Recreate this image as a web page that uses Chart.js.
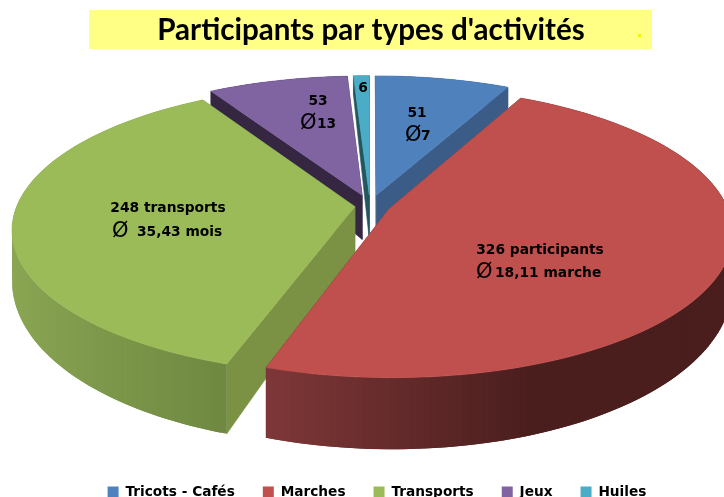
<!DOCTYPE html>
<html>
<head>
<meta charset="utf-8">
<title>Participants par types d'activités</title>
<script src="https://cdn.jsdelivr.net/npm/chart.js@4"></script>
<style>
  html, body { margin: 0; padding: 0; background: #fff; overflow: hidden; }
  canvas { display: block; }
</style>
</head>
<body>
<canvas id="chart" width="724" height="497"></canvas>
<script>
// Data
const categories = ['Tricots - Cafés', 'Marches', 'Transports', 'Jeux', 'Huiles'];
const participants = [51, 326, 248, 53, 6];
const titleText = "Participants par types d'activités";

// Styles
const topColors = ['#4F81BD', '#C0504D', '#9BBB59', '#8064A2', '#4BACC6'];
const sideColors = ['#3A5C87', '#6E2C2C', '#7B9245', '#352742', '#24565F'];
const explode = [0.08, 0.06, 0.045, 0.08, 0.08];
const drawOrder = [0, 4, 3, 2, 1];

// Labels drawn on the slices
const sliceLabels = [
  { x: 417, y: 113, text: '51' },
  { x: 405, y: 136, phi: true, textX: 421, text: '7' },
  { x: 318, y: 101, text: '53' },
  { x: 300, y: 124, phi: true, textX: 317, text: '13' },
  { x: 363, y: 88, text: '6' },
  { x: 168, y: 208, text: '248 transports' },
  { x: 112, y: 232, phi: true, textX: 137, text: '35,43 mois' },
  { x: 540, y: 250, text: '326 participants' },
  { x: 476, y: 273, phi: true, textX: 495, text: '18,11 marche' }
];

// 3D projection of the pie plane
const view = { cx: 370, cy: 206, a: 338, b: 141, k: 0.156 };

function project(u, v, drop) {
  const w = 1 / (1 + view.k * v);
  const y = view.cy - view.b * v * w;
  return [view.cx + view.a * u * w, drop ? y + 46 - 25 * v : y];
}

function mix(c1, c2, t) {
  t = Math.max(0, Math.min(1, t));
  return 'rgb(' + c1.map((c, i) => Math.round(c + (c2[i] - c) * t)).join(',') + ')';
}

// Colour of the outer wall, it gets darker towards the right
function wallColor(i, u) {
  if (i === 1) return mix([130, 57, 58], [75, 30, 30], (u + 0.3) / 0.7);
  if (i === 2) return mix([138, 166, 83], [109, 134, 64], (u + 1) / 0.7);
  return sideColors[i];
}

function slicePoints(arc, i) {
  const a0 = arc.startAngle + Math.PI / 2;
  const a1 = arc.endAngle + Math.PI / 2;
  const mid = (a0 + a1) / 2;
  const ox = Math.sin(mid) * explode[i];
  const oy = Math.cos(mid) * explode[i];
  const steps = Math.max(4, Math.ceil((a1 - a0) * 60));
  const pts = [];
  for (let s = 0; s <= steps; s++) {
    const a = a0 + (a1 - a0) * s / steps;
    pts.push([ox + Math.sin(a), oy + Math.cos(a)]);
  }
  return { tip: [ox, oy], pts };
}

function fillPoly(ctx, poly, color, noStroke) {
  ctx.beginPath();
  poly.forEach((p, n) => n ? ctx.lineTo(p[0], p[1]) : ctx.moveTo(p[0], p[1]));
  ctx.closePath();
  ctx.fillStyle = color;
  ctx.fill();
  if (!noStroke) {
    ctx.strokeStyle = color;
    ctx.lineWidth = 0.6;
    ctx.stroke();
  }
}

const pie3d = {
  id: 'pie3d',
  afterLayout(chart) {
    // title and legend sit where they are in the reference
    const t = chart.titleBlock;
    const titleH = t.bottom - t.top;
    t.left += 9; t.right += 9;
    t.top = 30 - titleH / 2; t.bottom = t.top + titleH;
    const l = chart.legend;
    const h = l.bottom - l.top;
    l.left += 15; l.right += 15;
    l.top = 483 - h / 2; l.bottom = l.top + h;
  },
  beforeDraw(chart) {
    const ctx = chart.ctx;
    ctx.save();
    ctx.fillStyle = '#FFFF85';
    ctx.fillRect(89, 10, 563, 39);
    ctx.fillStyle = '#F4F400';
    ctx.fillRect(638, 34, 3, 3);
    ctx.restore();
  },
  beforeDatasetDraw(chart) {
    const ctx = chart.ctx;
    const arcs = chart.getDatasetMeta(0).data;
    ctx.save();
    // walls first, back slices before front ones
    drawOrder.forEach(i => {
      const { tip, pts } = slicePoints(arcs[i], i);
      const first = pts[0];
      const last = pts[pts.length - 1];
      [first, last].forEach(p => {
        fillPoly(ctx, [
          project(tip[0], tip[1]), project(p[0], p[1]),
          project(p[0], p[1], true), project(tip[0], tip[1], true)
        ], sideColors[i]);
      });
      // each quad reaches over the next one so no seams show
      for (let s = 0; s < pts.length - 1; s++) {
        const p = pts[s];
        const q = pts[Math.min(s + 2, pts.length - 1)];
        fillPoly(ctx, [
          project(p[0], p[1]), project(q[0], q[1]),
          project(q[0], q[1], true), project(p[0], p[1], true)
        ], wallColor(i, p[0]), true);
      }
    });
    // then the top faces
    drawOrder.forEach(i => {
      const { tip, pts } = slicePoints(arcs[i], i);
      const poly = [project(tip[0], tip[1])].concat(pts.map(p => project(p[0], p[1])));
      fillPoly(ctx, poly, topColors[i]);
    });
    ctx.restore();
    return false;
  },
  afterDatasetsDraw(chart) {
    const ctx = chart.ctx;
    ctx.save();
    ctx.fillStyle = '#000';
    ctx.textBaseline = 'middle';
    sliceLabels.forEach(l => {
      ctx.font = 'bold 13.8px "DejaVu Sans"';
      if (l.phi) {
        ctx.textAlign = 'left';
        ctx.fillText(l.text, l.textX, l.y);
        ctx.font = '21px "DejaVu Sans"';
        ctx.fillText('Ø', l.x, l.y);
      } else {
        ctx.textAlign = 'center';
        ctx.fillText(l.text, l.x, l.y);
      }
    });
    ctx.restore();
  }
};

new Chart(document.getElementById('chart'), {
  type: 'pie',
  data: {
    labels: categories,
    datasets: [{
      data: participants,
      backgroundColor: topColors,
      borderWidth: 0
    }]
  },
  options: {
    responsive: false,
    animation: false,
    plugins: {
      title: {
        display: true,
        text: titleText,
        color: '#000',
        padding: 0,
        font: { family: 'Lato', weight: 'bold', size: 29.6 }
      },
      legend: {
        position: 'bottom',
        labels: {
          boxWidth: 11,
          boxHeight: 11,
          padding: 28,
          color: '#000',
          font: { family: 'DejaVu Sans', weight: 'bold', size: 13.7 }
        }
      },
      tooltip: { enabled: false }
    }
  },
  plugins: [pie3d]
});
</script>
</body>
</html>
